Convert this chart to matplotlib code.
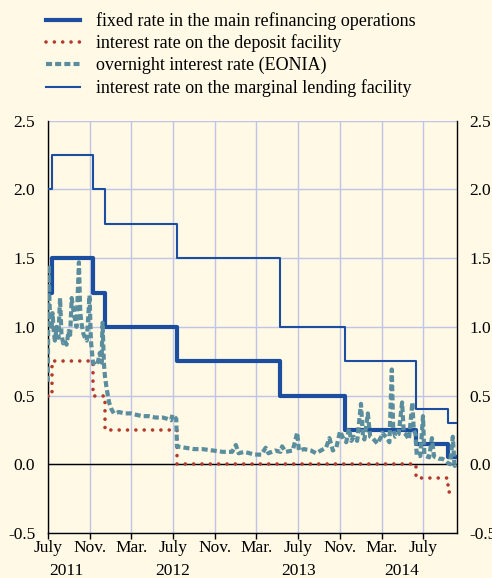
import matplotlib
matplotlib.use("Agg")
import matplotlib.pyplot as plt
import matplotlib.transforms as mtransforms
import numpy as np
import pandas as pd

plt.rcParams["font.family"] = "Liberation Serif"
plt.rcParams["axes.unicode_minus"] = False

# key ECB rates (step changes)
mro_dates = ["2011-07-01", "2011-07-13", "2011-11-09", "2011-12-14", "2012-07-11",
             "2013-05-08", "2013-11-13", "2014-06-11", "2014-09-10", "2014-10-06"]
mro_rate = [1.25, 1.50, 1.25, 1.00, 0.75, 0.50, 0.25, 0.15, 0.05, 0.05]

dep_dates = ["2011-07-01", "2011-07-13", "2011-11-09", "2011-12-14", "2012-07-11",
             "2014-06-11", "2014-09-10", "2014-10-06"]
dep_rate = [0.50, 0.75, 0.50, 0.25, 0.00, -0.10, -0.20, -0.20]

mlf_dates = ["2011-07-01", "2011-07-13", "2011-11-09", "2011-12-14", "2012-07-11",
             "2013-05-08", "2013-11-13", "2014-06-11", "2014-09-10", "2014-10-06"]
mlf_rate = [2.00, 2.25, 2.00, 1.75, 1.50, 1.00, 0.75, 0.40, 0.30, 0.30]

# EONIA
eonia_dates = [
    "2011-07-01", "2011-07-04", "2011-07-06", "2011-07-08", "2011-07-12", "2011-07-15",
    "2011-07-19", "2011-07-22", "2011-07-27", "2011-08-01", "2011-08-06", "2011-08-10",
    "2011-08-15", "2011-08-20", "2011-08-25", "2011-08-31", "2011-09-04", "2011-09-09",
    "2011-09-14", "2011-09-19", "2011-09-23", "2011-09-30", "2011-10-04", "2011-10-08",
    "2011-10-13", "2011-10-18", "2011-10-23", "2011-10-31", "2011-11-04", "2011-11-10",
    "2011-11-15", "2011-11-20", "2011-11-25", "2011-11-30", "2011-12-05", "2011-12-08",
    "2011-12-12", "2011-12-15", "2011-12-20", "2011-12-27", "2012-01-03", "2012-01-10",
    "2012-01-25", "2012-02-10", "2012-02-29", "2012-03-15", "2012-04-02", "2012-04-20",
    "2012-05-10", "2012-05-31", "2012-06-15", "2012-06-25", "2012-06-29", "2012-07-10",
    "2012-07-12", "2012-08-05", "2012-09-01", "2012-09-25", "2012-10-25", "2012-11-23",
    "2012-12-20", "2012-12-31", "2013-01-08", "2013-01-25", "2013-02-24", "2013-03-15",
    "2013-03-28", "2013-04-05", "2013-04-25", "2013-05-10", "2013-05-15", "2013-05-25",
    "2013-06-15", "2013-06-28", "2013-07-03", "2013-07-18", "2013-08-07", "2013-08-22",
    "2013-09-05", "2013-09-20", "2013-09-30", "2013-10-10", "2013-10-20", "2013-10-31",
    "2013-11-11", "2013-11-18", "2013-11-26", "2013-12-03", "2013-12-10", "2013-12-20",
    "2013-12-31", "2014-01-06", "2014-01-10", "2014-01-20", "2014-01-27", "2014-02-03",
    "2014-02-17", "2014-02-28", "2014-03-03", "2014-03-17", "2014-03-24", "2014-03-31",
    "2014-04-04", "2014-04-10", "2014-04-20", "2014-04-30", "2014-05-05", "2014-05-10",
    "2014-05-20", "2014-05-30", "2014-06-03", "2014-06-08", "2014-06-12", "2014-06-22",
    "2014-06-30", "2014-07-04", "2014-07-08", "2014-07-18", "2014-07-26", "2014-08-01",
    "2014-08-05", "2014-08-15", "2014-08-25", "2014-09-02", "2014-09-10", "2014-09-17",
    "2014-09-25", "2014-09-30", "2014-10-03", "2014-10-06",
]
eonia_rate = [
    0.60, 1.45, 1.20, 1.05, 0.98, 1.10,
    0.95, 0.90, 1.00, 0.92, 1.21, 0.95,
    0.88, 0.90, 0.87, 0.97, 0.92, 1.21,
    1.12, 1.05, 1.00, 1.47, 1.10, 1.02,
    0.95, 0.92, 0.90, 1.23, 0.90, 0.74,
    0.73, 0.72, 0.75, 0.81, 0.74, 1.03,
    0.73, 0.64, 0.55, 0.45, 0.40, 0.37,
    0.38, 0.37, 0.37, 0.36, 0.35, 0.35,
    0.34, 0.34, 0.33, 0.32, 0.36, 0.33,
    0.13, 0.12, 0.11, 0.11, 0.10, 0.09,
    0.09, 0.14, 0.08, 0.09, 0.07, 0.07,
    0.12, 0.08, 0.10, 0.09, 0.13, 0.09,
    0.10, 0.23, 0.10, 0.11, 0.10, 0.08,
    0.10, 0.12, 0.19, 0.10, 0.12, 0.24,
    0.18, 0.16, 0.26, 0.17, 0.20, 0.17,
    0.44, 0.20, 0.18, 0.37, 0.20, 0.19,
    0.15, 0.20, 0.23, 0.19, 0.16, 0.69,
    0.26, 0.20, 0.22, 0.45, 0.23, 0.22,
    0.18, 0.45, 0.25, 0.22, 0.06, 0.06,
    0.35, 0.07, 0.06, 0.05, 0.19, 0.06,
    0.05, 0.04, 0.04, 0.03, 0.01, 0.00,
    0.20, -0.01, 0.00, -0.02,
]

tick_dates = ["2011-07-01", "2011-11-01", "2012-03-01", "2012-07-01", "2012-11-01",
              "2013-03-01", "2013-07-01", "2013-11-01", "2014-03-01", "2014-07-01"]
tick_labels = ["July", "Nov.", "Mar."] * 3 + ["July"]
year_labels = ["2011", "2012", "2013", "2014"]
year_pos = ["2011-08-23", "2012-07-01", "2013-07-01", "2014-04-30"]

legend_labels = ["fixed rate in the main refinancing operations",
                 "interest rate on the deposit facility",
                 "overnight interest rate (EONIA)",
                 "interest rate on the marginal lending facility"]

bg = "#FFF9E6"
blue = "#1B4E9F"
red = "#B43A2C"
teal = "#5A8E9E"
gridc = "#BEC5E8"

fig = plt.figure(figsize=(4.92, 5.78), dpi=100, facecolor=bg)
ax = fig.add_axes([0.097, 0.078, 0.831, 0.713], facecolor=bg)

d = lambda s: pd.to_datetime(s)

ax.plot(d(mro_dates), mro_rate, drawstyle="steps-post", color=blue, lw=3.0,
        label=legend_labels[0], zorder=3)
ax.plot(d(dep_dates), dep_rate, drawstyle="steps-post", color=red, lw=2.6,
        linestyle=(0, (0.01, 2.3)), dash_capstyle="round", label=legend_labels[1], zorder=4)
ax.plot(d(eonia_dates), eonia_rate, color=teal, lw=3.0, linestyle=(0, (1.45, 0.75)),
        label=legend_labels[2], zorder=5)
ax.plot(d(mlf_dates), mlf_rate, drawstyle="steps-post", color=blue, lw=1.5,
        label=legend_labels[3], zorder=3)

ax.axhline(0, color="black", lw=1.0, zorder=2)

ax.set_xlim(d("2011-07-01"), d("2014-10-06"))
ax.set_ylim(-0.5, 2.5)
yt = np.arange(-0.5, 2.51, 0.5)
ax.set_yticks(yt)
ax.set_yticklabels([f"{v:.1f}" for v in yt])
ax.set_xticks(d(tick_dates))
ax.set_xticklabels(tick_labels)
ax.grid(True, color=gridc, lw=1.0, zorder=0)
ax.set_axisbelow(True)

ax.tick_params(axis="y", left=False, right=False, length=0, labelleft=True,
               labelright=True, labelsize=12.5, pad=9)
ax.tick_params(axis="x", direction="out", length=4, width=1, labelsize=12.5, pad=1)
ax.spines["top"].set_visible(False)
for s in ["left", "right", "bottom"]:
    ax.spines[s].set_color("black")
    ax.spines[s].set_linewidth(1.0)

trans = mtransforms.blended_transform_factory(ax.transData, fig.transFigure)
for lab, pos in zip(year_labels, year_pos):
    ax.text(d(pos), 0.005, lab, transform=trans, ha="center", va="baseline",
            fontsize=12.5, clip_on=False)

fig.legend(loc="upper left", bbox_to_anchor=(46 / 492, 1 - 12 / 578), frameon=False,
           fontsize=13, handlelength=1.9, handletextpad=0.85, labelspacing=0.26,
           borderpad=0, borderaxespad=0)

fig.savefig("out.png", dpi=100, facecolor=bg)
